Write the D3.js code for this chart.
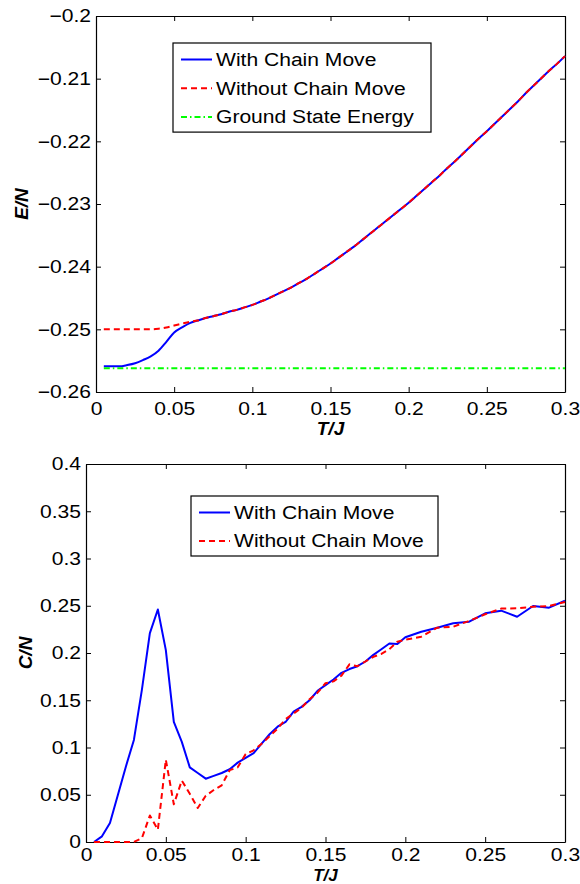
<!DOCTYPE html>
<html>
<head>
<meta charset="utf-8">
<script src="https://cdn.jsdelivr.net/npm/d3@7"></script>
<style>
  html, body { margin: 0; padding: 0; background: #fff; }
  svg { display: block; }
  text { font-family: "Liberation Sans", Arial, Helvetica, sans-serif; }
</style>
</head>
<body>
<svg id="chart" width="580" height="884"></svg>
<script>
// ---------------- DATA ----------------
const tempsE = [0.005,0.01,0.015,0.02,0.025,0.03,0.035,0.04,0.045,0.05,0.055,0.06,0.065,0.07,0.075,0.08,0.085,0.09,0.095,0.1,
  0.105,0.11,0.115,0.12,0.125,0.13,0.135,0.14,0.145,0.15,0.155,0.16,0.165,0.17,0.175,0.18,0.185,0.19,0.195,0.2,
  0.205,0.21,0.215,0.22,0.225,0.23,0.235,0.24,0.245,0.25,0.255,0.26,0.265,0.27,0.275,0.28,0.285,0.29,0.295,0.3];
const energyWith = [-0.2559,-0.2559,-0.2559,-0.2557,-0.2554,-0.2549,-0.2543,-0.2534,-0.2520,-0.2505,-0.2497,-0.2490,-0.2486,-0.2482,-0.2479,-0.2476,-0.2472,-0.2469,-0.2465,-0.2461,
  -0.2456,-0.2451,-0.2445,-0.2439,-0.2433,-0.2426,-0.2419,-0.2411,-0.2403,-0.2395,-0.2386,-0.2377,-0.2368,-0.2358,-0.2348,-0.2338,-0.2328,-0.2318,-0.2308,-0.2298,
  -0.2287,-0.2276,-0.2265,-0.2254,-0.2242,-0.2231,-0.2219,-0.2207,-0.2195,-0.2184,-0.2172,-0.2160,-0.2148,-0.2136,-0.2123,-0.2111,-0.2099,-0.2087,-0.2076,-0.2064];
const energyWithout = [-0.2500,-0.2500,-0.2500,-0.2500,-0.2500,-0.2500,-0.2500,-0.2499,-0.2497,-0.2494,-0.2491,-0.2488,-0.2486,-0.2482,-0.2479,-0.2476,-0.2472,-0.2469,-0.2465,-0.2461,
  -0.2456,-0.2451,-0.2445,-0.2439,-0.2433,-0.2426,-0.2419,-0.2411,-0.2403,-0.2395,-0.2386,-0.2377,-0.2368,-0.2358,-0.2348,-0.2338,-0.2328,-0.2318,-0.2308,-0.2298,
  -0.2287,-0.2276,-0.2265,-0.2254,-0.2242,-0.2231,-0.2219,-0.2207,-0.2195,-0.2184,-0.2172,-0.2160,-0.2148,-0.2136,-0.2123,-0.2111,-0.2099,-0.2087,-0.2076,-0.2064];
const groundT = [0.005, 0.3];
const groundEnergy = [-0.2562, -0.2562];

const tempsC = [0.005,0.01,0.015,0.02,0.025,0.03,0.035,0.04,0.045,0.05,0.055,0.06,0.065,0.07,0.075,0.08,0.085,0.09,0.095,0.1,
  0.105,0.11,0.115,0.12,0.125,0.13,0.135,0.14,0.145,0.15,0.155,0.16,0.165,0.17,0.175,0.18,0.185,0.19,0.195,0.2,
  0.21,0.22,0.23,0.24,0.25,0.26,0.27,0.28,0.29,0.3];
const heatWith = [0.000,0.006,0.020,0.050,0.080,0.108,0.161,0.221,0.246,0.203,0.127,0.106,0.079,0.073,0.067,0.070,0.073,0.077,0.084,0.089,
  0.094,0.104,0.114,0.122,0.127,0.138,0.143,0.150,0.160,0.166,0.172,0.179,0.183,0.186,0.191,0.198,0.204,0.210,0.2095,0.2166,
  0.2225,0.2268,0.2314,0.2331,0.2420,0.2448,0.2384,0.2497,0.2480,0.2553];
const heatWithout = [0.000,0.000,0.000,0.000,0.000,0.000,0.004,0.028,0.013,0.087,0.040,0.065,0.051,0.036,0.049,0.055,0.060,0.076,0.079,0.093,
  0.097,0.104,0.112,0.120,0.130,0.136,0.142,0.151,0.158,0.168,0.170,0.176,0.188,0.186,0.191,0.196,0.199,0.204,0.212,0.214,
  0.2173,0.2268,0.2278,0.2340,0.2410,0.2470,0.2473,0.2490,0.2497,0.2540];

const xTicks = [0, 0.05, 0.1, 0.15, 0.2, 0.25, 0.3];
const xTickLabels = ["0", "0.05", "0.1", "0.15", "0.2", "0.25", "0.3"];
const eTicks = [-0.26, -0.25, -0.24, -0.23, -0.22, -0.21, -0.2];
const eTickLabels = ["\u22120.26", "\u22120.25", "\u22120.24", "\u22120.23", "\u22120.22", "\u22120.21", "\u22120.2"];
const cTicks = [0, 0.05, 0.1, 0.15, 0.2, 0.25, 0.3, 0.35, 0.4];
const cTickLabels = ["0", "0.05", "0.1", "0.15", "0.2", "0.25", "0.3", "0.35", "0.4"];

const legendTop = ["With Chain Move", "Without Chain Move", "Ground State Energy"];
const legendBottom = ["With Chain Move", "Without Chain Move"];

// ---------------- STYLES ----------------
const BLUE = "#0000ff", RED = "#ff0000", GREEN = "#00ff00";
const styles = {
  with:    { color: BLUE,  dash: null },
  without: { color: RED,   dash: "6,4" },
  ground:  { color: GREEN, dash: "6,3,1.5,3" }
};
const FONT = 18;        // tick / legend text size
const STRETCH = 1.17;   // horizontal widening of the reference's text

const svg = d3.select("#chart");

function panel(opts) {
  const { left, right, top, bottom, yDomain, yTicks, yLabels, yTitle, yTitleX, xTitleDy, xPad, titleFont } = opts;
  const x = d3.scaleLinear().domain([0, 0.3]).range([left, right]);
  const y = d3.scaleLinear().domain(yDomain).range([bottom, top]);
  const g = svg.append("g");

  const fmt = (arr, labels) => (d) => labels[arr.indexOf(d)];

  const styleAxis = (sel) => {
    sel.selectAll("path").attr("stroke", "#000").attr("stroke-width", 1.2);
    sel.selectAll("line").attr("stroke", "#000").attr("stroke-width", 1);
    sel.selectAll("text").attr("font-size", FONT).attr("fill", "#000").attr("class", "stretch")
      .attr("font-family", '"Liberation Sans", Arial, sans-serif');
  };

  g.append("g").attr("transform", `translate(0,${bottom})`)
    .call(d3.axisBottom(x).tickValues(xTicks).tickFormat(fmt(xTicks, xTickLabels)).tickSizeInner(-5).tickSizeOuter(0).tickPadding(xPad))
    .call(styleAxis);
  g.append("g").attr("transform", `translate(0,${top})`)
    .call(d3.axisTop(x).tickValues(xTicks).tickFormat("").tickSizeInner(-5).tickSizeOuter(0))
    .call(styleAxis);
  g.append("g").attr("transform", `translate(${left},0)`)
    .call(d3.axisLeft(y).tickValues(yTicks).tickFormat(fmt(yTicks, yLabels)).tickSizeInner(-5).tickSizeOuter(0).tickPadding(5))
    .call(styleAxis);
  g.append("g").attr("transform", `translate(${right},0)`)
    .call(d3.axisRight(y).tickValues(yTicks).tickFormat("").tickSizeInner(-5).tickSizeOuter(0))
    .call(styleAxis);

  g.append("text")
    .attr("x", (left + right) / 2).attr("y", bottom + xTitleDy)
    .attr("text-anchor", "middle").attr("font-size", titleFont)
    .attr("font-weight", "bold").attr("font-style", "italic")
    .text("T/J");
  g.append("text")
    .attr("transform", `translate(${yTitleX},${(top + bottom) / 2}) rotate(-90)`)
    .attr("text-anchor", "middle").attr("font-size", 19)
    .attr("font-weight", "bold").attr("font-style", "italic")
    .text(yTitle);

  return { g, x, y };
}

function drawSeries(p, xs, ys, st, curve) {
  const data = xs.map((t, i) => [t, ys[i]]);
  const line = d3.line().x(d => p.x(d[0])).y(d => p.y(d[1])).curve(curve || d3.curveLinear);
  p.g.append("path").datum(data)
    .attr("d", line).attr("fill", "none")
    .attr("stroke", st.color).attr("stroke-width", 2)
    .attr("stroke-dasharray", st.dash)
    .attr("stroke-linejoin", "round");
}

function legend(p, x0, y0, w, rowH, labels, sts) {
  const h = rowH * labels.length + 3;
  p.g.append("rect").attr("x", x0).attr("y", y0).attr("width", w).attr("height", h)
    .attr("fill", "#fff").attr("stroke", "#000").attr("stroke-width", 1.2);
  labels.forEach((lab, i) => {
    const cy = y0 + 16.5 + i * rowH;
    p.g.append("line").attr("x1", x0 + 8).attr("x2", x0 + 39).attr("y1", cy).attr("y2", cy)
      .attr("stroke", sts[i].color).attr("stroke-width", 2).attr("stroke-dasharray", sts[i].dash);
    p.g.append("text").attr("x", x0 + 43).attr("y", cy).attr("dy", "0.36em")
      .attr("class", "stretch").attr("font-size", FONT).text(lab);
  });
}

// ---- Top panel: energy ----
const pTop = panel({ left: 96, right: 565, top: 16, bottom: 392, xTitleDy: 42.5, xPad: 10, titleFont: 19,
  yDomain: [-0.26, -0.2], yTicks: eTicks, yLabels: eTickLabels, yTitle: "E/N", yTitleX: 28 });
drawSeries(pTop, tempsE, energyWith, styles.with, d3.curveMonotoneX);
drawSeries(pTop, tempsE, energyWithout, styles.without, d3.curveMonotoneX);
drawSeries(pTop, groundT, groundEnergy, styles.ground);
legend(pTop, 173, 43, 258, 28.7, legendTop, [styles.with, styles.without, styles.ground]);

// ---- Bottom panel: heat capacity ----
const pBot = panel({ left: 86, right: 565, top: 464, bottom: 842, xTitleDy: 38.5, xPad: 6, titleFont: 17,
  yDomain: [0, 0.4], yTicks: cTicks, yLabels: cTickLabels, yTitle: "C/N", yTitleX: 32 });
drawSeries(pBot, tempsC, heatWith, styles.with);
drawSeries(pBot, tempsC, heatWithout, styles.without);
legend(pBot, 191, 496, 247, 28.5, legendBottom, [styles.with, styles.without]);

// widen text horizontally like the reference rendering
svg.selectAll("text.stretch").each(function () {
  const len = this.getComputedTextLength();
  if (len > 0) {
    d3.select(this).attr("textLength", (len * STRETCH).toFixed(2)).attr("lengthAdjust", "spacingAndGlyphs");
  }
});
</script>
</body>
</html>
